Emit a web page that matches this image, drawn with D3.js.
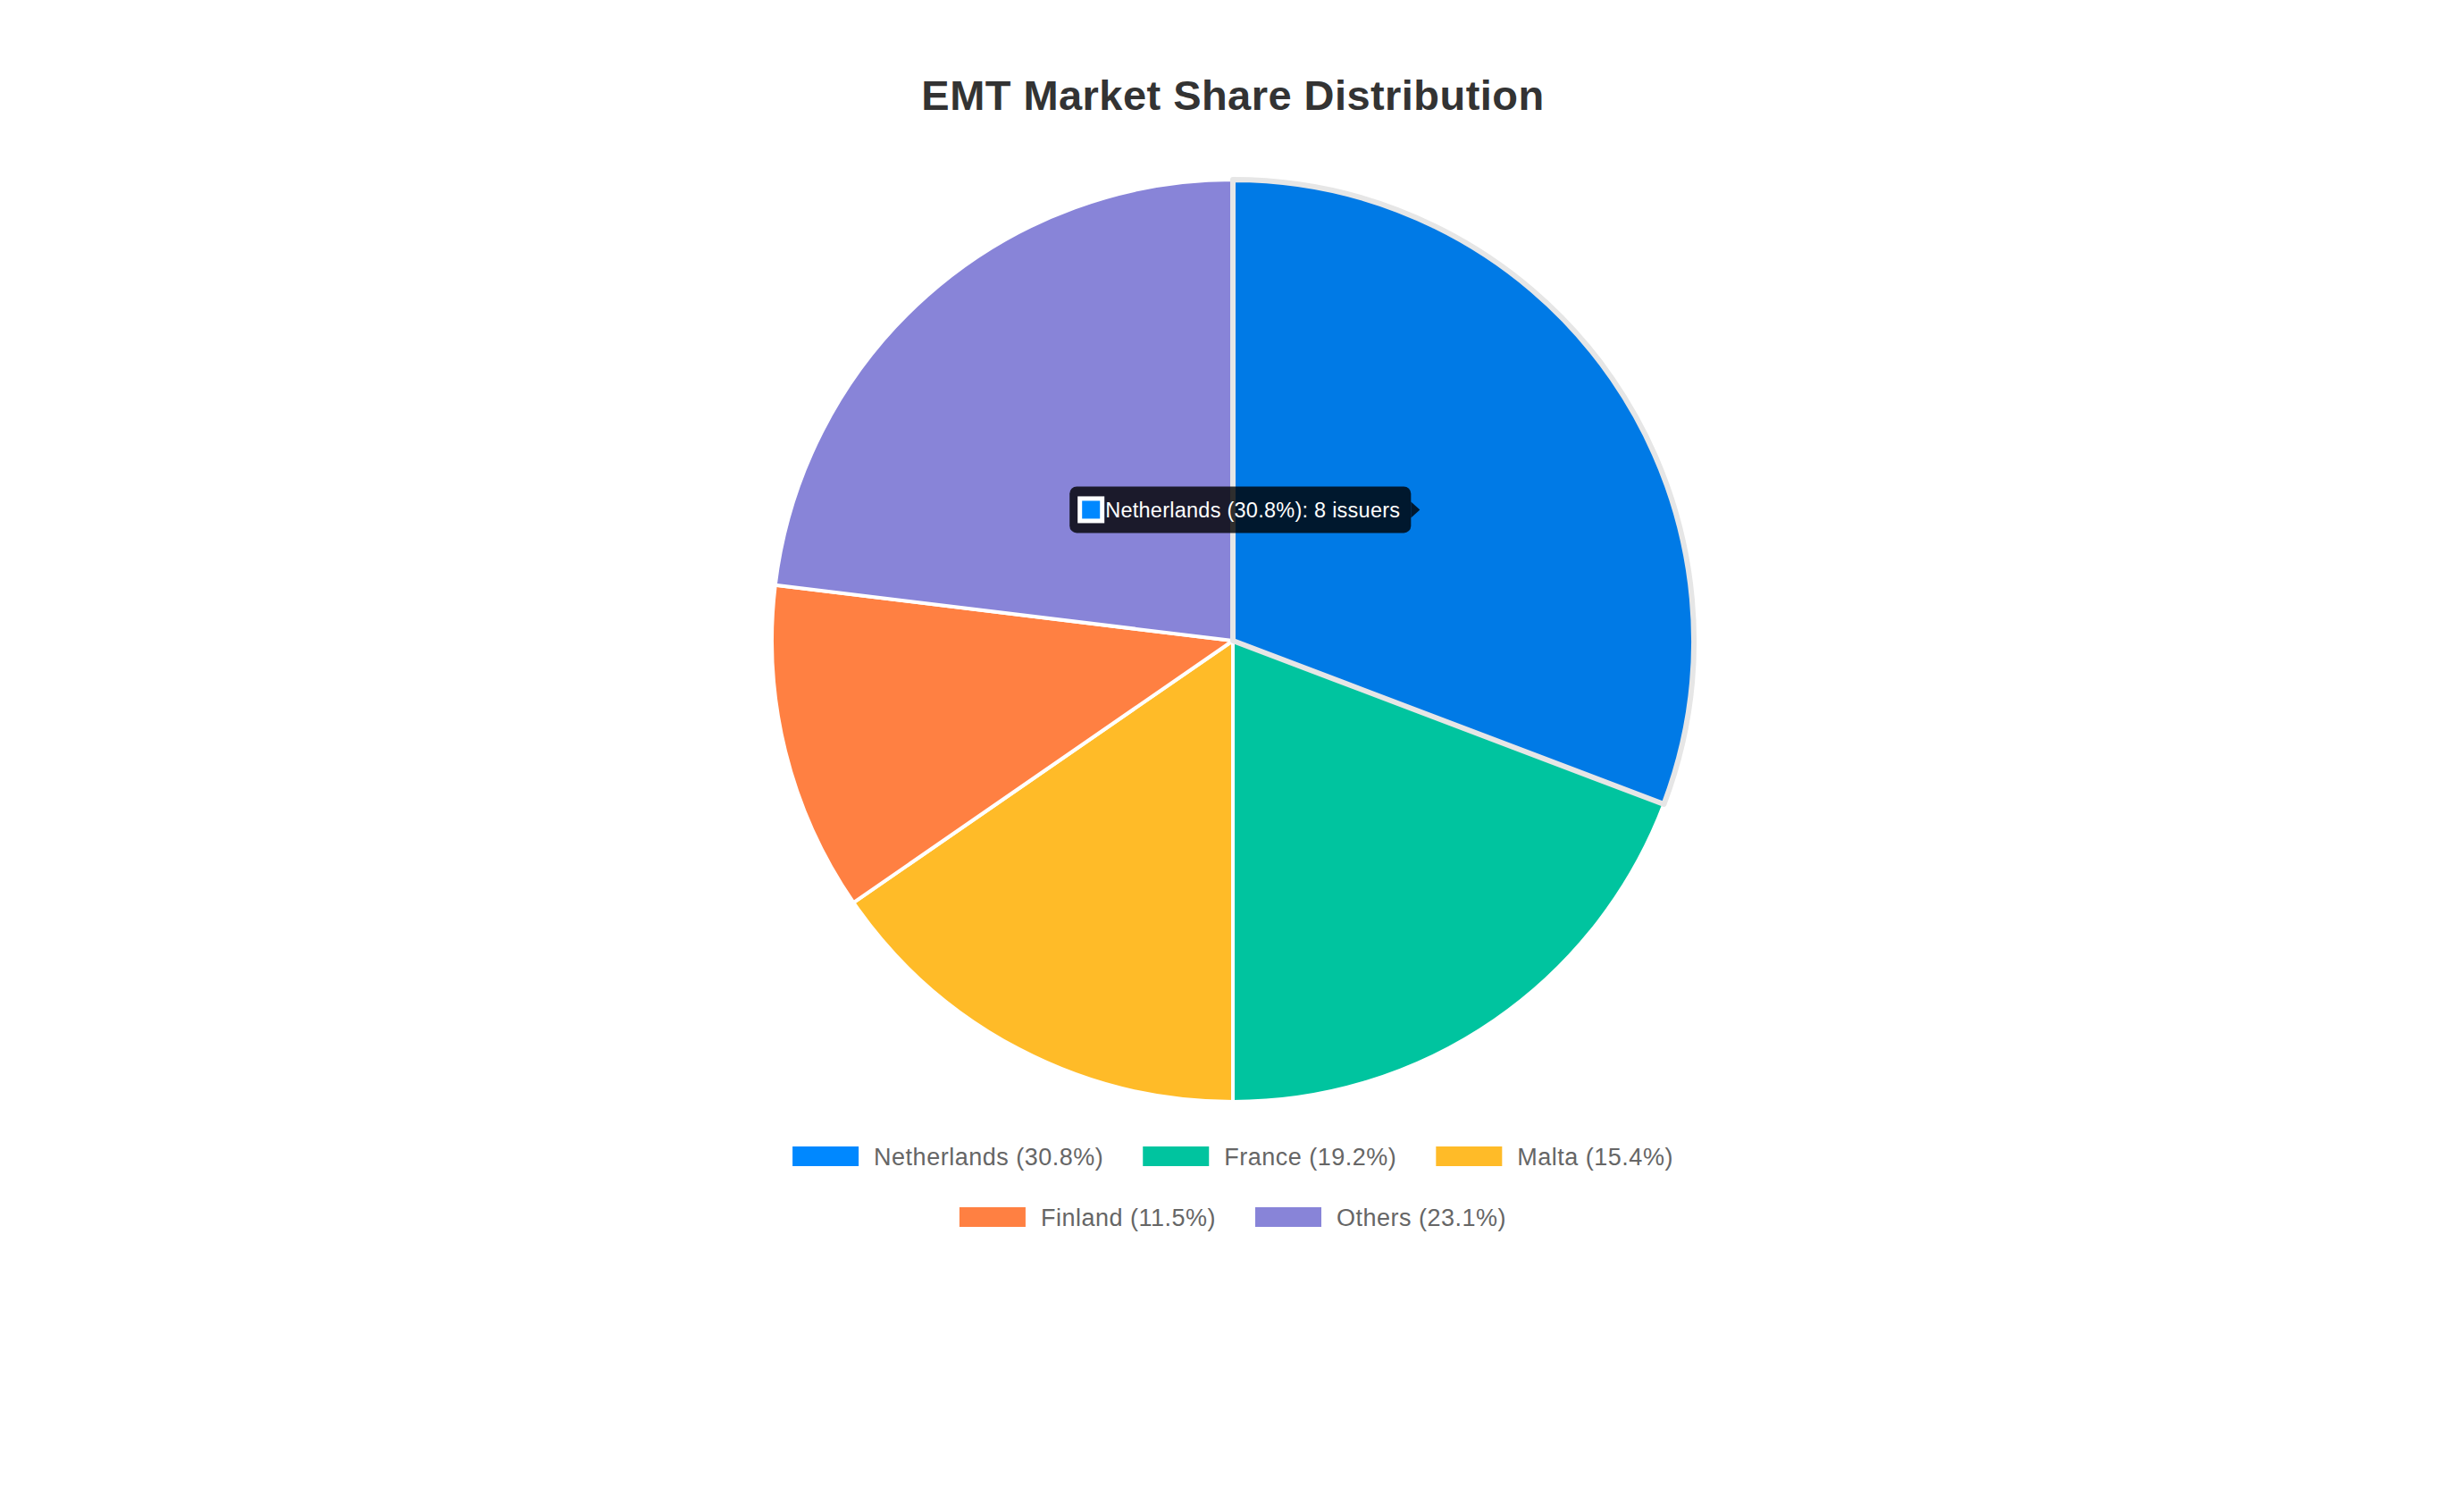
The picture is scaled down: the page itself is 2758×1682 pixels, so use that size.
<!DOCTYPE html>
<html>
<head>
<meta charset="utf-8">
<script src="https://cdn.jsdelivr.net/npm/d3@7"></script>
<style>
  html, body { margin: 0; padding: 0; background: #ffffff; }
  svg { display: block; }
</style>
</head>
<body>
<svg id="chart" width="2758" height="1682"></svg>
<script>
// ---- data ----
const categories = ["Netherlands", "France", "Malta", "Finland", "Others"];
const issuers = [8, 5, 4, 3, 6];
const colors = ["#0088FF", "#00C49F", "#FFBB28", "#FF8042", "#8884D8"];
const hoverColors = ["#007AE6", "#00B08F", "#F5AE12", "#FF6E2A", "#7671D4"];
const titleText = "EMT Market Share Distribution";
const hoveredIndex = 0;

// ---- layout ----
const W = 2758, H = 1682;
const cx = 1380, cy = 717, R = 516;
const FONT = "'Liberation Sans', Arial, Helvetica, sans-serif";

const svg = d3.select("#chart");
const total = d3.sum(issuers);
const pct = issuers.map(v => (v / total * 100).toFixed(1));
const data = categories.map((c, i) => ({ name: c, value: issuers[i], pct: pct[i], i }));

// title
svg.append("text")
  .attr("x", cx).attr("y", 123)
  .attr("text-anchor", "middle")
  .attr("font-family", FONT)
  .attr("font-weight", "bold")
  .attr("font-size", 47)
  .attr("letter-spacing", 0.45)
  .attr("fill", "#333333")
  .text(titleText);

// pie
const pie = d3.pie().value(d => d.value).sort(null);
const arcs = pie(data);
const arc = d3.arc().innerRadius(0).outerRadius(R);
const g = svg.append("g").attr("transform", `translate(${cx},${cy})`);

const ordered = arcs.filter(a => a.data.i !== hoveredIndex).concat(arcs.filter(a => a.data.i === hoveredIndex));
g.selectAll("path.slice").data(ordered).enter().append("path")
  .attr("class", "slice")
  .attr("d", arc)
  .attr("fill", d => d.data.i === hoveredIndex ? hoverColors[d.data.i] : colors[d.data.i])
  .attr("stroke", d => d.data.i === hoveredIndex ? "#e6e6e6" : "#ffffff")
  .attr("stroke-width", d => d.data.i === hoveredIndex ? 6 : 4)
  .attr("stroke-linejoin", "round");

// legend
const legendFont = 27;
const legendLS = 0.5;
const boxW = 74, boxH = 22, textOff = 91, itemGap = 44, maxRowW = 1080;
const row1Y = 1294, rowStep = 68;
const measure = svg.append("text").attr("font-family", FONT).attr("font-size", legendFont)
  .attr("letter-spacing", legendLS).attr("visibility", "hidden");
const items = data.map(d => {
  const label = `${d.name} (${d.pct}%)`;
  measure.text(label);
  const tw = measure.node().getComputedTextLength();
  return { d, label, w: textOff + tw };
});
measure.remove();
const rows = [];
let cur = [], curW = 0;
items.forEach(it => {
  const add = (cur.length ? itemGap : 0) + it.w;
  if (cur.length && curW + add > maxRowW) { rows.push(cur); cur = []; curW = 0; }
  curW += (cur.length ? itemGap : 0) + it.w;
  cur.push(it);
});
if (cur.length) rows.push(cur);

const lg = svg.append("g");
rows.forEach((row, ri) => {
  const rw = d3.sum(row, r => r.w) + itemGap * (row.length - 1);
  let x = cx - rw / 2;
  const yc = row1Y + ri * rowStep;
  row.forEach(it => {
    lg.append("rect")
      .attr("x", x).attr("y", yc - boxH / 2)
      .attr("width", boxW).attr("height", boxH)
      .attr("fill", colors[it.d.i]);
    lg.append("text")
      .attr("x", x + textOff).attr("y", yc + 9.5)
      .attr("font-family", FONT).attr("font-size", legendFont)
      .attr("letter-spacing", legendLS)
      .attr("fill", "#666666")
      .text(it.label);
    x += it.w + itemGap;
  });
});

// tooltip anchored at hovered slice centroid
const hov = arcs[hoveredIndex];
const [tcx, tcy] = arc.centroid(hov);
const tipX = cx + tcx - 3, tipY = cy + tcy;
const ttFont = 23.5;
const tt = svg.append("g");
const ttLabel = `${hov.data.name} (${hov.data.pct}%): ${hov.data.value} issuers`;
const ttText = tt.append("text")
  .attr("font-family", FONT).attr("font-size", ttFont)
  .attr("letter-spacing", 0.25)
  .attr("fill", "#ffffff")
  .text(ttLabel);
const ttw = ttText.node().getComputedTextLength();
const caret = 10, padL = 9, padR = 12, sq = 30, boxHt = 52;
const bxR = tipX - caret;
const bxL = bxR - (padL + sq + 1 + ttw + padR);
const bxT = tipY - boxHt / 2;
tt.insert("path", "text")
  .attr("d", `M${bxR},${tipY - 9} L${tipX},${tipY} L${bxR},${tipY + 9} Z`)
  .attr("fill", "rgba(0,0,0,0.8)");
tt.insert("rect", "text")
  .attr("x", bxL).attr("y", bxT).attr("width", bxR - bxL).attr("height", boxHt)
  .attr("rx", 8).attr("ry", 8)
  .attr("fill", "rgba(0,0,0,0.8)");
tt.append("rect")
  .attr("x", bxL + padL).attr("y", tipY - 15).attr("width", sq).attr("height", sq)
  .attr("fill", "#ffffff");
tt.append("rect")
  .attr("x", bxL + padL + 5).attr("y", tipY - 10).attr("width", sq - 10).attr("height", sq - 10)
  .attr("fill", colors[hoveredIndex]);
ttText.attr("x", bxL + padL + sq + 1).attr("y", tipY + 9);
</script>
</body>
</html>
